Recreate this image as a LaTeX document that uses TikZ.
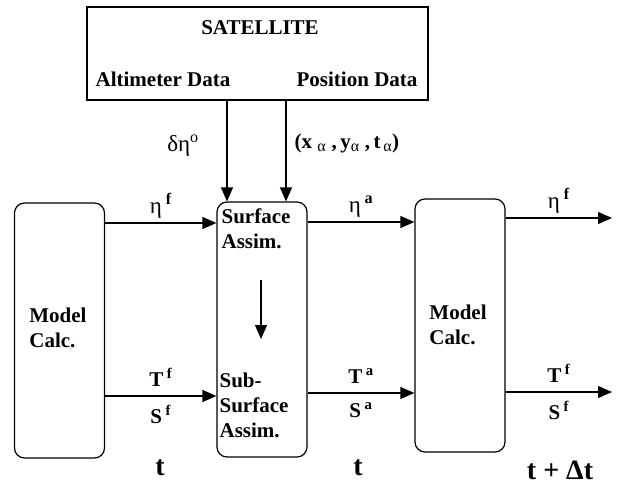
\documentclass[tikz,border=0pt]{standalone}
\usepackage{fontspec}
\setmainfont{Liberation Serif}
\usetikzlibrary{arrows.meta}

\begin{document}
\begin{tikzpicture}[x=1pt,y=-1pt,line width=1.2pt,
  font=\fontsize{21}{25}\selectfont\bfseries,
  box/.style={draw,rounded corners=10pt,minimum width=90pt,inner sep=0pt},
  arr/.style={-{Triangle[length=14pt,width=12pt]}},
  lab/.style={inner sep=2pt},
  time/.style={font=\fontsize{28}{30}\selectfont\bfseries}]
\useasboundingbox (0,0) rectangle (617,484);
%%%%%%%%%%%%%%%%%%%%%%%%%%%%%%% satellite
\node[draw,minimum width=341pt,minimum height=93pt](sat) at (257.5,53.5){};
\node(title) at (260,28){SATELLITE};
\node[anchor=west,inner sep=0pt](alt) at (95,79){Altimeter Data};
\node[anchor=east,inner sep=0pt](pos) at (418,79){Position Data};
%%%%%%%%%%%%%%%%%%%%%%%%%%%%%%% boxes
\node[box,minimum height=255pt](model1) at (59.5,330.5){};
\node[align=left](calc1) at (58,328){Model\\Calc.};
\node[box,minimum height=255pt](assim) at (262,329.5){};
\node[anchor=north west,align=left,inner sep=0pt](surf) at (221,208){Surface\\Assim.};
\node[anchor=north west,align=left,inner sep=0pt](sub) at (219,372){Sub-\\Surface\\Assim.};
\node[box,minimum height=253pt](model2) at (460,325.5){};
\node[align=left](calc2) at (458,325){Model\\Calc.};
%%%%%%%%%%%%%%%%%%%%%%%%%%%%%%% rows and free ends
\coordinate(obs) at (227,0);
\coordinate(posx) at (286,0);
\coordinate(r1) at (0,223);
\coordinate(r2) at (0,396);
\coordinate(r3) at (0,222);
\coordinate(r4) at (0,393);
\coordinate(out1) at (612,218);
\coordinate(out2) at (612,392);
\coordinate(in1) at (261,280);
\coordinate(in2) at (261,339);
%%%%%%%%%%%%%%%%%%%%%%%%%%%%%%% data from satellite
\draw[arr] (sat.south -| obs) -- (assim.north -| obs);
\draw[arr] (sat.south -| posx) -- (assim.north -| posx);
\node[lab](deta) at (183,146){\mdseries\fontsize{23}{25}\selectfont δη\textsuperscript{o}};
\node[lab,anchor=west](xyt) at (292,143){(x\textsubscript{\mdseries\fontsize{16}{20}\selectfont\,\,α} ,\,y\textsubscript{\mdseries\fontsize{16}{20}\selectfont α} ,\,t\textsubscript{\mdseries\fontsize{16}{20}\selectfont\,α})};
%%%%%%%%%%%%%%%%%%%%%%%%%%%%%%% forecast to assimilation
\draw[arr] (model1.east |- r1) -- node[lab,above=2pt]{\mdseries\fontsize{23}{25}\selectfont η\,\textsuperscript{\bfseries f}}(assim.west |- r1);
\draw[arr] (model1.east |- r2) -- node[lab,above=7pt]{T\,\textsuperscript{f}} node[lab,below=7pt]{S\,\textsuperscript{f}}(assim.west |- r2);
\draw[arr] (in1) -- (in2);
%%%%%%%%%%%%%%%%%%%%%%%%%%%%%%% analysis to model
\draw[arr] (assim.east |- r3) -- node[lab,above=2pt]{\mdseries\fontsize{23}{25}\selectfont η\,\textsuperscript{\bfseries a}}(model2.west |- r3);
\draw[arr] (assim.east |- r4) -- node[lab,above=7pt]{T\,\textsuperscript{a}} node[lab,below=7pt]{S\,\textsuperscript{a}}(model2.west |- r4);
%%%%%%%%%%%%%%%%%%%%%%%%%%%%%%% model output
\draw[arr] (model2.east |- out1) -- node[lab,above=2pt]{\mdseries\fontsize{23}{25}\selectfont η\,\textsuperscript{\bfseries f}}(out1);
\draw[arr] (model2.east |- out2) -- node[lab,above=7pt]{T\,\textsuperscript{f}} node[lab,below=7pt]{S\,\textsuperscript{f}}(out2);
%%%%%%%%%%%%%%%%%%%%%%%%%%%%%%% time levels
\node[time](t1) at (160,468){t};
\node[time](t2) at (358,468){t};
\node[time](t3) at (560,470){t + Δt};
\end{tikzpicture}
\end{document}
